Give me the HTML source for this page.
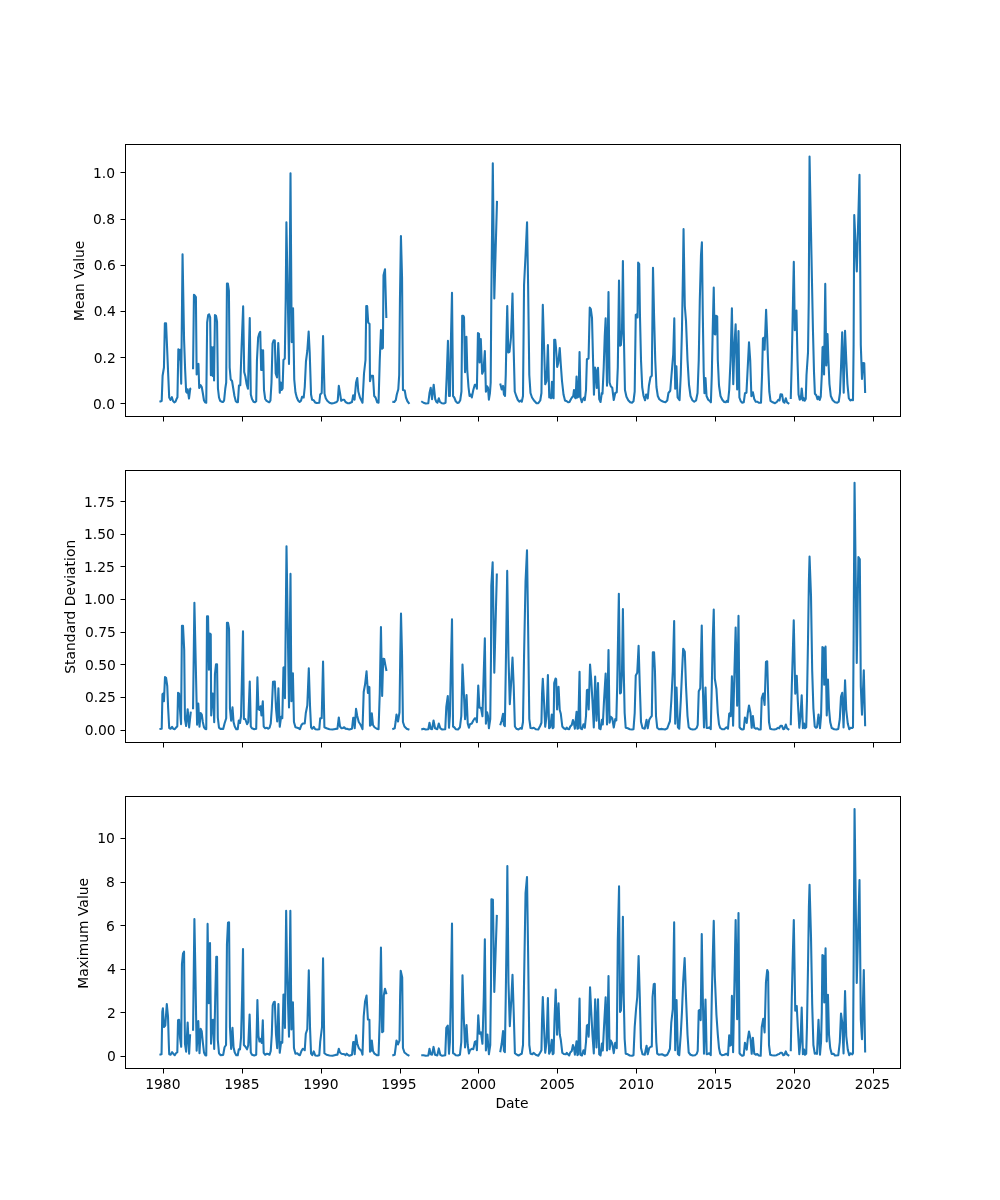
<!DOCTYPE html>
<html><head><meta charset="utf-8"><title>Statistics over time</title>
<style>
html,body{margin:0;padding:0;background:#fff;}
svg{display:block;}
text{font-family:"DejaVu Sans","Liberation Sans",sans-serif;font-size:13.889px;fill:#000;}
.fr{fill:none;stroke:#000;stroke-width:1;shape-rendering:crispEdges;}
.tk{stroke:#000;stroke-width:1;shape-rendering:crispEdges;}
.ln{fill:none;stroke:#1f77b4;stroke-width:2.08;stroke-linejoin:round;stroke-linecap:butt;}
</style></head>
<body>
<svg width="1000" height="1200" viewBox="0 0 1000 1200">
<rect x="0" y="0" width="1000" height="1200" fill="#ffffff"/>
<g id="ax1">
<clipPath id="c1"><rect x="125.5" y="144.5" width="775" height="272"/></clipPath>
<g clip-path="url(#c1)">
<path class="ln" d="M159.45 401.7 L161.7 400.95 L162.6 375.75 L163.95 367.5 L164.85 323.25 L166.05 323.25 L167.1 348 L168.15 373.5 L169.2 397.5 L170.55 399.9 L171.9 397.2 L172.95 400.8 L174.3 402.45 L175.5 401.7 L176.4 399.3 L177.45 397.2 L178.35 349.3 L179.25 359.5 L180.15 349.9 L181.2 383.8 L182.55 254.2 L184.05 339 L185.1 369 L186.15 391.8 L187.05 392.7 L187.65 389.2 L189 398.5 L190.2 388.8 L191.25 388.5"/>
<path class="ln" d="M193.05 369.3 L193.95 294.75 L195 295.8 L195.9 297 L196.65 374.5 L197.7 364.2 L198.45 363.9 L199.2 388 L200.55 385.2 L201.75 387 L202.8 393 L204 400.5 L205.2 402.3 L206.25 402.75 L207.15 322.5 L208.2 315 L209.1 314.25 L210.15 317.25 L210.9 375.25 L211.8 347.2 L212.7 376 L213.3 347.2 L214.05 380.5 L214.95 315 L216 315.75 L217.05 321.75 L217.95 388.5 L219 397.5 L220.2 400.8 L221.55 401.7 L222.9 402 L224.1 400.5 L225.3 388.5 L226.2 382.5 L226.95 283.5 L227.85 283.5 L228.9 291 L229.65 367.5 L230.7 379.5 L232.05 381 L233.25 388.5 L234.45 396 L235.8 401.25 L237 402.3 L237.9 402.3 L238.95 385.5 L240.3 385.2 L241.65 345 L243.15 306.4 L244.2 372 L245.4 376.5 L246.6 384 L247.95 388.75 L249.75 317.95 L250.8 394.5 L252 399 L253.5 401.7 L255 402.3 L256.2 401.25 L256.95 360 L258.15 337.5 L259.2 333.75 L260.25 331.8 L261.15 370 L261.9 350.2 L262.65 370 L263.1 350.2 L264 390 L265.2 399 L266.55 400.8 L268.05 401.7 L269.25 402.3 L270.45 400.5 L271.5 382.5 L272.55 343.5 L273.75 340.2 L274.8 340.5 L275.7 373.5 L277.05 377.5 L278.25 343 L279 360 L279.75 392.8 L280.8 382.45 L281.7 390 L282.6 388.5 L283.45 360 L284.8 358.5 L285.7 300 L286.4 222.2 L289 364 L290.5 173.35 L291.7 342.1 L293.05 308.2 L294.25 379.5 L295.45 392.25 L296.8 397.5 L298.15 400.5 L299.65 402 L301 400.8 L302.05 396.75 L303.7 397.5 L304.75 387 L305.95 361.5 L307.3 351 L308.65 331.45 L309.7 352.5 L311.05 394.5 L312.1 399.75 L313.6 400.2 L315.1 402.45 L316.75 403.05 L319.3 402.75 L320.2 394.5 L321.7 393 L323.05 335.95 L324.55 393.75 L325.75 398.25 L327.25 400.8 L329.5 402.75 L331.75 403.5 L334 402.9 L336.7 402 L337.75 400.5 L338.8 385.9 L340 393 L341.2 400.8 L342.7 399.75 L344.2 399.75 L345.55 402 L347.5 403.2 L349.3 403.2 L352 402 L353.2 395.2 L354.55 399.7 L356.05 382.5 L357.25 377.95 L358.3 391.5 L359.95 397.5 L362.5 402.7 L364 373.5 L365.5 360 L366.25 306 L367.15 306 L368.2 322.5 L369.55 324 L370 381.25 L371.2 375.75 L373 375.75 L374.2 396 L375.55 397.5 L377.2 402.3 L378.55 402.75 L379.75 360 L380.95 329.95 L382 348.75 L382.9 348 L383.5 275.25 L385 269.2 L386.35 318"/>
<path class="ln" d="M392.3 401.7 L394.25 402 L395.75 400.2 L396.8 394.5 L398.3 389.25 L399.2 375 L399.95 300 L400.93 236.05 L402.05 277.5 L402.95 390 L404.75 390.45 L405.95 397.5 L407.45 401.25 L409.4 403.8"/>
<path class="ln" d="M421.25 401.25 L423.5 402.75 L425.75 403.5 L428.3 403.2 L429.5 393 L430.7 387.7 L432.05 399.25 L433.7 384.7 L435.2 399 L436.25 401.7 L437.45 402.75 L438.8 398.2 L440 402 L441.8 403.2 L443.75 403.5 L445.55 402.75 L446.75 375 L447.95 340.9 L449 396 L449.9 396 L450.8 345 L452 292.9 L453.05 396 L454.25 397.5 L455.75 401.25 L457.25 402.9 L458.75 402.75 L460.25 400.2 L461.45 391.5 L462.2 315.75 L463.25 315.75 L464 317.25 L465.05 372.25 L466.4 336.7 L467.3 370.5 L468.5 387 L469.55 396 L470.75 394.5 L471.8 397.5 L473.3 390 L474.8 384.75 L476 384.75 L476.9 388.75 L477.95 333 L479 333.75 L479.6 362.5 L480.8 338.95 L482.15 373.75 L483.5 370.5 L484.85 350.95 L485.9 391.75 L487.1 386.25 L488 387.75 L488.9 399.7 L489.95 393 L490.7 382.5 L491.3 300 L492.8 163.2 L494.3 298.5 L497 200.85"/>
<path class="ln" d="M500.2 383.6 L501.7 389.5 L503.05 385.9 L503.95 394.5 L505 396 L505.75 375 L506.5 336 L507.25 305.95 L508.3 352.5 L509.5 351.75 L511 337.5 L512.5 293.5 L513.55 345 L514.75 391.5 L516.25 396 L517.75 399.75 L519.25 401.7 L520.75 400.5 L521.8 401.7 L523 396 L524.05 285 L525.55 255 L527.05 222.25 L528.1 285 L529.3 375 L530.5 393 L532 397.5 L534.25 400.8 L536.5 403.2 L538.3 403.2 L540.25 400.5 L541.45 393 L542.05 345 L542.8 304.9 L544 345 L545.2 384.25 L546.55 381 L547.9 344.95 L549.25 397.5 L550.3 396.75 L551.05 398.25 L551.95 381.7 L552.7 397.5 L553.6 398.25 L554.2 339.75 L555.25 339.75 L556 348 L557.2 367 L558.25 363 L559.75 347.95 L560.8 364.5 L562 381 L563.5 394.5 L565 400.5 L566.8 401.25 L568.3 402.3 L569.5 402 L571 399 L572.2 397.2 L573.25 396 L574 389.95 L574.9 397.5 L575.65 398.25 L576.55 376.45 L577.45 397.5 L578.5 396.75 L579.55 352 L580.45 397.5 L581.8 402.25 L583 399 L584.05 397.5 L584.8 400.2 L586 390 L586.9 359.25 L588.55 358.5 L589.75 307.5 L590.8 309 L592 318 L593.05 360 L593.95 394.75 L595 367.5 L595.9 370.5 L596.8 388 L598 367.9 L599.2 399 L600.55 402 L601.75 393 L602.5 393.75 L603.7 367.5 L604.75 336 L605.65 318.4 L607 385.75 L608.5 292 L609.55 382.5 L610.75 386.25 L612.25 387.75 L613.75 400 L615.25 393 L616.75 392.25 L617.8 367.5 L619 280.45 L620.05 345.75 L620.95 345 L622 330 L622.9 260.95 L623.75 330 L624.95 390 L626.45 396.75 L628.25 400.2 L630.2 402.3 L632 402.75 L633.5 401.25 L634.7 391.5 L635.75 315 L636.95 314.25 L637.55 317.5 L638.15 262.5 L639.2 264 L639.95 315 L641 360 L642.2 387 L643.55 396 L645.05 400.3 L646.1 394.5 L647 394.8 L647.75 398.5 L648.95 385.5 L650.45 377.25 L651.8 375.75 L653 267.7 L654.05 315 L655.25 360 L656.45 387 L657.8 396 L659.3 399.3 L661.25 400.8 L663.5 401.7 L665.45 402.3 L667.25 400.5 L668.45 393 L670.25 390.75 L671.75 372 L673.25 354 L674.3 318.4 L675.2 388.75 L676.4 366.4 L677.6 397.5 L678.65 399 L679.55 400.2 L680.75 375 L681.95 330 L683 270 L683.55 229.15 L684.8 306 L686 321 L687.5 360 L689 384.75 L690.5 396 L692.3 400.2 L694.25 401.7 L696.05 400.5 L697.55 393 L698.75 360 L699.8 300 L701 255 L701.9 242.2 L702.8 315 L703.7 372 L704.45 393.25 L705.5 377.95 L706.55 396 L708.2 399.75 L709.7 400.8 L710.9 402.3 L711.8 375 L712.7 330 L713.75 287.5 L714.5 333.75 L715.25 334.5 L715.7 315.75 L717.2 316.5 L717.8 360 L719 385.5 L720.5 396 L722.3 399.75 L724.25 402 L725.75 402.3 L726.8 400.8 L728 402 L729.2 390 L730.55 360 L731.9 308.2 L733.25 384.25 L734.45 345 L735.65 324.4 L737.15 389.5 L738.5 331.15 L739.4 397.5 L740.75 401.25 L742.25 402.75 L743.75 402.3 L744.95 393.3 L746.45 392.7 L747.5 372 L749 342.4 L750.2 360 L751.4 396.25 L752.9 392.2 L754.25 399 L755.75 401.7 L757.25 401.7 L758.75 402.75 L761 402.75 L762.05 375 L762.95 338.25 L764 337.5 L764.6 349.75 L766.1 309.7 L767.2 337.5 L768.25 367.5 L769.3 391.5 L770.5 400.8 L772.75 402.3 L775 403.2 L776.8 402 L778.3 399.75 L779.5 400.5 L780.55 394.2 L782.05 394.5 L783.25 401.7 L784.45 402.75 L785.8 398.2 L787 402.3 L789.25 403.8"/>
<path class="ln" d="M790.75 399 L791.8 360 L792.7 315 L793.8 261.9 L794.8 330.25 L796.45 310.45 L797.5 360 L798.55 394.5 L799.75 399.75 L800.8 399 L801.7 388.45 L802.9 400.3 L803.8 398.2 L804.55 400.8 L805.75 399 L806.5 375 L808 352.5 L808.75 300 L809.55 156.45 L811.75 270 L812.95 330 L814 372 L814.9 393.75 L816.25 395.25 L817.45 399.25 L818.5 396.7 L819.7 400 L820.75 396.75 L821.8 375 L822.55 347.25 L823.45 346.5 L824.05 374.5 L825.25 283.9 L826.3 365.5 L827.5 334 L828.4 360 L829.45 384 L830.8 396 L832.75 400.2 L835 402.3 L837.25 402.75 L838.75 401.7 L839.95 393 L841 367.5 L842.2 332.2 L843.7 392.8 L845.05 330.7 L846.25 360 L847.45 384 L848.8 398.25 L850.3 400.5 L851.8 399.75 L853 400.2 L853.6 345 L854.25 214.95 L856.8 271.5 L859.5 174.9 L860.8 345 L862 379 L863.05 363 L864.25 363.3 L865.15 393"/>
</g>
<rect x="163" y="417" width="1" height="4.5"/><rect x="242" y="417" width="1" height="4.5"/><rect x="321" y="417" width="1" height="4.5"/><rect x="400" y="417" width="1" height="4.5"/><rect x="478" y="417" width="1" height="4.5"/><rect x="557" y="417" width="1" height="4.5"/><rect x="636" y="417" width="1" height="4.5"/><rect x="715" y="417" width="1" height="4.5"/><rect x="794" y="417" width="1" height="4.5"/><rect x="873" y="417" width="1" height="4.5"/>
<rect x="120.5" y="403" width="4.5" height="1"/><rect x="120.5" y="357" width="4.5" height="1"/><rect x="120.5" y="311" width="4.5" height="1"/><rect x="120.5" y="265" width="4.5" height="1"/><rect x="120.5" y="219" width="4.5" height="1"/><rect x="120.5" y="172" width="4.5" height="1"/>
<rect class="fr" x="125.5" y="144.5" width="775" height="272"/>
</g>
<g id="ax2">
<clipPath id="c2"><rect x="125.5" y="470.5" width="775" height="272"/></clipPath>
<g clip-path="url(#c2)">
<path class="ln" d="M159.45 729.05 L161.7 728.75 L162.45 694.25 L163.2 693.5 L163.95 701.25 L165 677 L166.05 677.75 L167.25 686 L168.15 708.5 L169.2 728 L170.55 728.75 L172.05 726.8 L173.25 728.75 L174.75 729.2 L175.95 727.7 L177.3 726.2 L178.05 692.75 L179.1 693.5 L180 710 L181.05 724.2 L181.95 625.7 L183 625.7 L184.2 650 L184.95 719 L186.15 726 L187.65 709.2 L189.15 727.5 L190.8 711.55"/>
<path class="ln" d="M193.05 709.25 L194.4 602.7 L195.45 650 L196.5 698 L197.1 724.8 L198.3 703.5 L199.5 726.75 L200.7 713 L201.75 714.5 L202.8 722 L204 727.25 L205.2 728.75 L206.25 729.2 L207 616.4 L208.05 616.4 L208.95 669.75 L209.85 633.5 L210.75 634.25 L211.2 715.5 L212.4 693.5 L213.3 693.8 L214.2 722.25 L214.95 674 L216 664.25 L217.05 664.25 L217.8 717.5 L219 727.7 L220.5 728.9 L223.2 728.9 L224.55 723.5 L226.2 718.25 L226.95 622.7 L228 622.7 L229.05 629 L229.95 708.5 L231.15 720.75 L232.5 707.4 L233.55 722 L234.75 726.5 L236.25 729.2 L237.75 729.2 L238.8 720.45 L240 723 L241.05 716 L242.1 671 L243 631.2 L243.9 719 L245.25 719 L247.05 724.25 L248.25 722 L249.75 681.45 L250.8 726.5 L252 728.3 L254.25 729.2 L256.2 728.75 L257.4 677.4 L258.45 709.25 L259.5 710 L260.55 706.2 L261.45 715.5 L262.8 701.25 L263.7 726.5 L265.2 728.3 L267 727.7 L268.2 728.75 L269.55 727.7 L270.75 723.5 L271.8 708.5 L273 681.8 L274.8 681.5 L276 708.5 L277.2 721.5 L278.4 688.2 L279.75 726.75 L281.1 716.75 L282.3 718.25 L283.45 667.7 L284.2 667.25 L284.95 698.25 L285.7 626 L286.5 546.2 L289 707.5 L290.5 573.9 L291.4 701.25 L292.9 673.2 L293.95 722 L295.45 727.25 L297.25 727.7 L298.75 728.3 L299.95 729.2 L301.45 725 L302.8 723.5 L304.75 723.5 L305.8 713 L307.3 705.5 L308.8 668.4 L310 705.5 L311.05 727.25 L312.25 728.75 L313.75 726.8 L315.25 729.2 L317.5 729.5 L319.3 729.2 L320.2 718.25 L321.7 718.25 L323.05 661.5 L324.4 727.25 L326.5 728.3 L329.5 729.2 L332.5 729.5 L335.5 728.9 L337.45 728.75 L338.8 717.45 L340 726.5 L341.5 728.3 L343 728 L344.2 727.25 L345.55 728.75 L347.5 728.9 L349.3 729.5 L352 728.75 L353.2 717.8 L353.95 717.8 L354.7 728.25 L356.05 708.9 L357.25 716 L358.75 722 L360.25 724.25 L361.45 726.5 L362.5 729.2 L363.7 692 L365.05 684.5 L366.55 671.4 L367.9 693 L368.5 686.75 L369.4 687.2 L370 725.75 L370.9 725 L371.8 713.4 L373 725 L374.5 727.25 L376.75 728.75 L378.55 729.2 L379.75 693.5 L380.95 627 L382.15 696 L383.2 658.7 L384.25 659 L385.45 665.75 L386.5 671"/>
<path class="ln" d="M392.3 729.2 L394.7 728.3 L395.6 722 L396.5 714.45 L398 721.5 L399.5 712.25 L400.25 656 L401 613.5 L402.05 656 L402.95 722 L404.45 726.5 L406.7 728.75 L409.4 729.8"/>
<path class="ln" d="M421.25 729.5 L423.5 728.75 L425.75 729.5 L428.3 729.2 L429.5 722.7 L430.7 728.75 L432.05 729.2 L433.55 720.45 L435.05 728.3 L437.3 729.2 L438.8 723.45 L440.3 728.3 L442.25 729.5 L445.25 729.2 L446.3 707 L447.8 696 L449 727.8 L449.9 716 L450.8 671 L452 619.2 L453.05 726.5 L454.25 727.25 L455.75 729.2 L458 729.5 L459.95 727.25 L461.3 716 L462.5 664.5 L463.55 686 L465.05 719.25 L466.55 694.95 L467.75 723.5 L468.95 727.8 L470 724.25 L471.8 723.5 L473.3 720.5 L474.8 718.25 L476 719 L476.9 722.25 L478.25 685.5 L479.45 707.75 L480.95 707.75 L482.45 716.25 L483.8 671 L484.85 638.4 L485.9 723.75 L487.1 712.2 L488 716 L488.9 728.25 L490.25 719 L491 656 L491.3 586 L492.65 562.2 L494.3 672.8 L496.85 573.55"/>
<path class="ln" d="M500.2 725.3 L501.7 720.5 L503.05 713.7 L503.95 725 L504.85 726.2 L505.75 671 L507.2 570.9 L508.45 656 L509.8 704.25 L511.3 680 L512.5 657.45 L513.7 686 L514.9 726.5 L516.4 728.75 L518.5 729.5 L520.45 728 L521.8 728.75 L523 722 L524.05 656 L525.55 581 L527 550.2 L528.1 626 L529.3 719 L530.5 728 L532.3 728.3 L533.8 727.7 L535.75 729.2 L538.3 729.5 L540.25 725.75 L541.45 722.75 L542.05 693.5 L542.8 678.9 L544 701 L545.2 726.75 L546.55 716 L547.9 675 L549.1 728.3 L550.3 727.25 L551.8 714.45 L552.7 728.3 L553.6 727.25 L554.2 683 L555.55 678.5 L556.15 679.25 L557.05 709.5 L558.55 686.7 L559.75 710 L560.8 713.75 L562.3 726.5 L563.8 728.3 L565.75 729.2 L566.8 727.7 L568 728.9 L569.2 729.2 L570.25 726.5 L571.75 725 L572.95 720 L574 723.5 L574.9 728.7 L576.55 711.9 L577.45 728.75 L578.2 728.3 L579.55 671.7 L580.45 728.3 L581.95 729.2 L583.45 724.2 L584.8 727.8 L586 716 L586.9 690.2 L587.8 689.75 L588.7 709.5 L590.05 664.5 L591.25 680 L592.45 701 L593.8 727.5 L595.15 676.5 L596.5 720.75 L598 682.95 L599.2 728.3 L600.55 729.2 L601.9 719.7 L602.8 724.5 L604 701 L605.65 673.5 L607 724.5 L608.5 649.95 L609.55 722.7 L610.75 716.75 L612.25 718.25 L613.75 727.5 L615.25 719 L616.3 720.5 L617.2 686 L618.85 593.7 L620.05 693.5 L620.95 692.75 L622 671 L622.9 609 L623.75 671 L624.65 713 L625.7 727.7 L627.8 728.3 L629.75 729.2 L632 729.5 L633.5 729.2 L634.7 713 L635.75 675.5 L637.25 672.8 L638.6 645.9 L639.8 686 L641 722 L642.5 728 L644.75 728.75 L646.55 719.7 L647.75 728.25 L649.25 719.75 L650.75 717.2 L651.8 716 L652.85 652.25 L654.05 652.25 L654.95 671 L656 716 L657.2 727.7 L659 729.2 L662 728.9 L665 729.5 L667.25 728.3 L668.75 724.25 L669.95 721.25 L671.3 701 L672.8 671 L674.15 621 L675.2 723.75 L676.55 687.45 L677.9 727.25 L679.25 728.75 L680.75 701 L681.95 674 L683.15 648.8 L684.8 651.8 L686 686 L687.5 716 L688.7 727.25 L690.5 728.9 L692.75 729.5 L695 729.2 L696.8 727.7 L697.7 725 L698.75 691.25 L700.25 688.25 L701.75 625.5 L702.8 686 L704 727.5 L705.5 687.45 L706.7 728 L708.2 728 L709.25 727.25 L710.75 729.2 L711.8 686 L712.7 641 L713.75 609.45 L714.8 678.5 L716.45 689 L717.8 713 L719 724.25 L720.2 728 L722 729.2 L724.25 729.2 L726.5 727.25 L728 728.75 L729.2 713.75 L729.95 713 L730.7 716.25 L731.9 676.2 L733.1 725.7 L734.45 671 L735.65 627.45 L737.15 705.75 L738.5 615.9 L739.55 727.25 L740.75 728.75 L742.25 729.5 L743.75 729.2 L744.95 717.45 L746.75 723 L747.8 713 L749 705.45 L750.5 713 L751.7 727.8 L752.9 715.95 L754.25 727.7 L755.75 728.75 L757.25 728.3 L758.75 729.5 L760.7 729.5 L761.75 698 L763.25 693.45 L764.6 705 L765.95 662 L767.2 661.25 L768.1 693.5 L769 722 L770.2 728.75 L772 729.2 L774.25 729.5 L776.5 728.9 L778 727.7 L779.2 728.3 L780.55 725.75 L781.9 725.75 L783.25 729.2 L784.45 728.75 L785.8 724.5 L787 728.3 L789.25 729.8"/>
<path class="ln" d="M790.75 725.3 L791.8 686 L792.7 656 L793.75 620.4 L795.25 693.75 L796.75 675.9 L797.8 701 L799.3 727.8 L800.5 716 L801.7 695.4 L802.9 728.25 L804.1 723.45 L805 728.3 L806.2 727.25 L806.95 701 L808 641 L808.9 581 L809.55 556.5 L811 596 L812.2 671 L813.4 708.5 L814.75 726.5 L815.95 727.7 L817 727.25 L818.5 714.45 L820 728.25 L821.05 716 L821.8 686 L822.4 647 L823.45 647.75 L824.2 684.75 L825.55 646.65 L826.75 715.5 L827.95 679.5 L829 708.5 L830.2 722 L831.7 728 L834.25 729.2 L836.5 729.5 L838.3 728.9 L839.8 719 L841 696.5 L842.2 692.7 L843.55 727.5 L845.05 680.4 L846.25 710 L847.75 723.5 L849.25 729.2 L850.75 727.7 L852.25 728 L853 727.25 L853.6 641 L854.55 482.7 L856.75 663 L858.4 557 L859.8 559.3 L860.8 686 L862 714.75 L863.8 670.2 L865.15 726.2"/>
</g>
<rect x="163" y="743" width="1" height="4.5"/><rect x="242" y="743" width="1" height="4.5"/><rect x="321" y="743" width="1" height="4.5"/><rect x="400" y="743" width="1" height="4.5"/><rect x="478" y="743" width="1" height="4.5"/><rect x="557" y="743" width="1" height="4.5"/><rect x="636" y="743" width="1" height="4.5"/><rect x="715" y="743" width="1" height="4.5"/><rect x="794" y="743" width="1" height="4.5"/><rect x="873" y="743" width="1" height="4.5"/>
<rect x="120.5" y="730" width="4.5" height="1"/><rect x="120.5" y="697" width="4.5" height="1"/><rect x="120.5" y="664" width="4.5" height="1"/><rect x="120.5" y="632" width="4.5" height="1"/><rect x="120.5" y="599" width="4.5" height="1"/><rect x="120.5" y="566" width="4.5" height="1"/><rect x="120.5" y="534" width="4.5" height="1"/><rect x="120.5" y="501" width="4.5" height="1"/>
<rect class="fr" x="125.5" y="470.5" width="775" height="272"/>
</g>
<g id="ax3">
<clipPath id="c3"><rect x="125.5" y="796.5" width="775" height="272"/></clipPath>
<g clip-path="url(#c3)">
<path class="ln" d="M159.45 1054.75 L161.55 1054.3 L162.3 1012 L162.9 1008.2 L163.95 1027 L165.3 1025.5 L166.8 1004 L168 1016.5 L168.75 1042 L169.2 1054.3 L170.55 1054.75 L172.05 1052.2 L173.25 1053.7 L174.75 1055.2 L175.95 1053.25 L177.3 1052.2 L178.05 1020.25 L179.1 1019.8 L180 1037.5 L181.2 1046.75 L181.95 964 L183 953.5 L184.05 951.7 L184.95 1043.5 L186.15 1051.7 L187.65 1022.45 L189.15 1053.8 L190.05 1035.25 L191.1 1035.25"/>
<path class="ln" d="M193.05 1030.75 L194.4 918.95 L195.45 976 L196.65 1050.8 L198.3 1020.95 L199.5 1053.2 L200.7 1028.9 L201.75 1031.5 L202.8 1042 L204 1052.5 L205.2 1055.2 L206.25 1055.5 L206.85 997 L207.6 923.9 L208.8 1003.25 L210 942.95 L211.05 1043.75 L212.4 1020.25 L213.3 1019.8 L214.2 1049 L215.25 997 L216.3 956.8 L217.05 956.8 L217.8 1039.75 L219 1053.25 L220.5 1055.2 L223.2 1054.9 L224.55 1047.25 L226.05 1045 L226.95 944.5 L228 922.75 L229.05 922.3 L229.95 1027 L231.15 1049 L232.5 1027.7 L233.55 1047.25 L234.75 1052.5 L236.25 1055.2 L237.75 1055.2 L238.8 1049.2 L240 1049.5 L241.05 1037.5 L242.1 997 L243 948.95 L243.9 1045 L245.25 1046.5 L247.05 1049.3 L248.25 1045.3 L249.6 1014.5 L250.8 1052.5 L252 1054.75 L254.25 1055.5 L256.2 1054.75 L257.4 1000.1 L258.45 1036 L259.5 1041.5 L260.55 1038.95 L261.75 1043 L262.8 1020.2 L263.7 1052.8 L265.2 1054.75 L267 1053.7 L268.2 1054 L269.55 1054.75 L270.75 1051 L271.8 1034.5 L272.7 1005.25 L273.75 1002.25 L274.8 1001.8 L276 1034.5 L277.2 1048.25 L278.4 1004 L279.75 1052.75 L281.1 1042 L282.3 1042.75 L283.45 994.75 L284.2 994.3 L284.95 1028 L286.15 910.7 L287.05 967 L289 1036.7 L290.35 910.7 L291.4 1029.5 L292.9 1002.2 L293.95 1048 L295.45 1053.7 L297.25 1053.25 L298.75 1054.75 L299.95 1055.2 L301.45 1051 L302.8 1048.75 L304.75 1050.25 L305.8 1033.75 L307.3 1029.25 L308.8 970.4 L310 1027 L311.05 1053.7 L312.25 1055.2 L313.75 1051.4 L315.25 1055.5 L317.5 1055.8 L319.3 1055.2 L320.2 1042 L322 1027 L323.05 958.4 L324.4 1053.25 L326.5 1054.75 L329.5 1055.5 L332.5 1055.8 L335.5 1054.9 L337.45 1054.75 L338.8 1048.7 L340 1052.5 L341.5 1053.7 L343 1054 L344.5 1054.3 L345.55 1055.2 L346.75 1053.7 L348.25 1055.2 L349.3 1055.8 L352 1054.75 L353.2 1042 L353.95 1042 L354.7 1054.25 L356.05 1035.2 L357.25 1043.5 L358.75 1048 L360.25 1049.8 L361.45 1051 L362.5 1054.7 L363.7 1016.5 L365.05 1001.5 L366.55 995.45 L367.9 1019.5 L369.4 1019.8 L370 1051.75 L370.9 1051 L371.8 1040.45 L373 1051 L374.5 1053.7 L376.75 1055.2 L378.55 1055.2 L379.75 1019.5 L380.95 947.45 L382.15 1032.25 L383.2 1031.5 L383.8 995.5 L385 988.7 L386.5 994.3"/>
<path class="ln" d="M392.3 1055.5 L394.7 1054.75 L395.6 1048 L396.5 1040.45 L398 1044.5 L399.5 1040.5 L400.1 997 L400.7 970.7 L402.2 977.5 L402.95 1048 L404.45 1052.5 L406.7 1054.3 L409.4 1055.95"/>
<path class="ln" d="M421.25 1055.2 L423.5 1055.2 L425.75 1055.8 L428.3 1055.5 L429.5 1048.7 L430.7 1054.3 L432.05 1054.75 L433.55 1046.9 L435.05 1054.75 L437.3 1055.5 L438.8 1048.4 L440.3 1054.75 L442.25 1055.8 L445.25 1055.2 L446.3 1027.75 L447.8 1025.5 L449 1053.8 L449.9 1042 L450.8 997 L452 923.45 L453.05 1053.25 L454.25 1053.7 L455.75 1055.2 L458 1055.5 L459.95 1054.75 L461.3 1042 L462.5 975.2 L463.55 1012 L465.05 1047.5 L466.55 1025 L467.75 1045 L468.95 1053.5 L470 1050.25 L471.8 1048.75 L473.3 1049.2 L474.8 1042 L476 1041.25 L476.9 1050.2 L478.25 1015.4 L479.45 1033.75 L480.95 1032.25 L482.45 1043.75 L483.8 997 L484.85 939.2 L485.9 1050.5 L487.4 1034.45 L488.9 1054.25 L490.25 1045 L491 982 L491.4 899.2 L492.9 899.8 L494.3 992 L496.85 914.85"/>
<path class="ln" d="M500.2 1052.2 L501.7 1043.5 L503.05 1031 L503.95 1051 L504.85 1052.2 L505.75 997 L506.8 922 L507.35 866 L508.45 982 L509.8 1026.2 L511.3 1000 L512.5 974.9 L513.7 1012 L514.9 1053.25 L516.4 1054.3 L518.5 1055.5 L520.45 1054.3 L521.8 1053.7 L523 1045 L524.05 982 L525.55 893 L527 877 L528.1 952 L529.3 1045 L530.5 1053.7 L532.3 1054.3 L533.5 1052.8 L535.75 1054.75 L538.3 1055.8 L540.25 1052.5 L541.45 1050.25 L542.05 1019.5 L542.8 996.95 L544 1027 L545.2 1052.75 L546.55 1042 L547.9 998.15 L549.1 1053.8 L550.3 1051 L551.8 1039.7 L552.7 1054.3 L553.6 1053.25 L554.5 1019.5 L555.7 989.45 L557.05 1034.75 L558.55 1003.4 L559.75 1034.5 L560.8 1039.75 L562.3 1052.8 L563.8 1054 L565.75 1054.3 L566.8 1052.8 L568 1054.3 L569.2 1055.5 L570.25 1052.5 L571.75 1051 L572.95 1045 L574 1048 L574.9 1054.7 L576.55 1041.2 L577.45 1055.2 L578.2 1054.3 L579.55 998.45 L580.45 1054.75 L581.95 1055.5 L583.45 1050.2 L584.8 1054.25 L586 1042 L586.9 1025.5 L587.8 1024.75 L588.7 1036.7 L590.05 987.2 L591.25 1012 L592.45 1034.5 L593.8 1053.5 L595.15 999.2 L596.5 1047.5 L598 999.2 L599.2 1054.3 L600.55 1055.5 L601.9 1043.45 L602.8 1050.5 L604 1027 L605.65 997.25 L607 1050.5 L608.5 975.95 L609.55 1049.3 L610.75 1040.5 L612.25 1043.5 L613.75 1053.2 L615.25 1042.7 L616.75 1048.25 L617.8 940 L619.05 886.4 L620.05 1012 L620.95 1010.5 L622 982 L622.9 916.7 L623.75 997 L624.65 1039 L625.7 1053.7 L627.8 1054.3 L629.75 1055.5 L632 1055.8 L633.5 1055.2 L634.7 1027 L636.05 1009 L637.25 997 L638.6 956 L639.8 997 L641 1048 L642.5 1054.3 L644.75 1054.75 L646.55 1045.7 L647.75 1054.25 L649.25 1048 L650.75 1046.8 L651.8 1046.5 L652.55 997 L653.75 984.25 L654.8 983.8 L655.55 1019.5 L656.3 1042 L657.2 1053.7 L659 1054.75 L662 1054.3 L665 1055.8 L667.25 1054.75 L668.75 1051.75 L669.95 1048.75 L671.3 1022.5 L672.8 1009 L674.15 922.4 L675.2 1050.2 L676.55 999.95 L677.9 1054 L679.25 1055.2 L680.75 1034.5 L681.95 1012 L683.15 982 L684.65 957.95 L686 997 L687.5 1034.5 L688.7 1052.5 L690.5 1054.75 L692.75 1055.5 L695 1055.2 L696.8 1053.7 L697.7 1051 L698.75 1010.5 L699.8 1009.75 L700.7 1020.2 L701.75 933.95 L702.8 997 L704 1053.8 L705.5 999.5 L706.7 1054.3 L708.2 1053.7 L709.25 1053.25 L710.75 1055.2 L711.8 997 L712.7 959.5 L713.75 920.9 L714.8 976 L716.45 1015 L717.8 1034.5 L719 1048 L720.2 1053.7 L722 1055.2 L724.25 1054.75 L726.5 1053.7 L728 1055.2 L729.2 1035.2 L729.95 1045.75 L731 1045 L731.9 995.9 L733.1 1052.3 L734.45 982 L735.65 920 L737.15 1019.3 L738.5 912.95 L739.55 1053.25 L740.75 1054.75 L742.25 1055.8 L743.75 1055.2 L744.95 1042.7 L746.75 1049.75 L747.8 1039 L749 1031.45 L750.5 1039 L751.7 1053.8 L752.9 1037.9 L754.25 1053.7 L755.75 1054.75 L757.25 1054 L758.75 1055.5 L760.7 1055.8 L761.75 1027 L763.25 1018.7 L764.6 1032.5 L765.95 982 L767.2 970 L768.1 972.25 L769 1045 L770.2 1054.75 L772 1055.2 L774.25 1055.5 L776.5 1055.2 L778 1054.3 L779.2 1054 L780.55 1052.8 L781.9 1052.8 L783.25 1055.2 L784.45 1054.75 L785.8 1051.4 L787 1054.3 L789.25 1055.8"/>
<path class="ln" d="M790.75 1051.3 L791.8 997 L792.7 959.5 L793.8 920 L795.25 1010.75 L796.75 1005.95 L797.8 1027 L799.3 1054.25 L800.5 1042 L801.7 1007.45 L802.9 1054.25 L804.1 1049.45 L805 1054.75 L806.2 1053.7 L806.95 1027 L808 967 L808.9 907 L809.55 884.9 L811 937 L812.2 1004.5 L813.4 1045 L814.75 1053.7 L815.95 1053.25 L817 1054 L818.5 1019.9 L820 1054.7 L821.05 1042 L821.8 1012 L822.4 955 L823.45 955.75 L824.2 1002.5 L825.55 948.2 L826.75 1041.5 L827.95 994.7 L829 1034.5 L830.2 1048 L831.7 1054 L833.5 1053.7 L835 1055.5 L838.3 1055.2 L839.8 1042 L841 1013.45 L842.2 1022.5 L843.55 1053.5 L845.05 990.95 L846.25 1036 L847.75 1049.5 L849.25 1055.2 L850.75 1053.25 L852.25 1054.3 L853 1053.25 L853.6 967 L854.55 809 L856.75 983 L859.5 880 L860.8 1019.5 L862 1039.25 L863.8 969.95 L865.15 1052.5"/>
</g>
<rect x="163" y="1069" width="1" height="4.5"/><rect x="242" y="1069" width="1" height="4.5"/><rect x="321" y="1069" width="1" height="4.5"/><rect x="400" y="1069" width="1" height="4.5"/><rect x="478" y="1069" width="1" height="4.5"/><rect x="557" y="1069" width="1" height="4.5"/><rect x="636" y="1069" width="1" height="4.5"/><rect x="715" y="1069" width="1" height="4.5"/><rect x="794" y="1069" width="1" height="4.5"/><rect x="873" y="1069" width="1" height="4.5"/>
<rect x="120.5" y="1056" width="4.5" height="1"/><rect x="120.5" y="1012" width="4.5" height="1"/><rect x="120.5" y="969" width="4.5" height="1"/><rect x="120.5" y="925" width="4.5" height="1"/><rect x="120.5" y="882" width="4.5" height="1"/><rect x="120.5" y="838" width="4.5" height="1"/>
<rect class="fr" x="125.5" y="796.5" width="775" height="272"/>
</g>
<g id="labels">
<text x="115.00" y="408.55" text-anchor="end">0.0</text>
<text x="115.75" y="362.55" text-anchor="end">0.2</text>
<text x="115.75" y="315.55" text-anchor="end">0.4</text>
<text x="115.75" y="269.55" text-anchor="end">0.6</text>
<text x="115.00" y="223.55" text-anchor="end">0.8</text>
<text x="115.00" y="177.55" text-anchor="end">1.0</text>
<text x="115.62" y="734.55" text-anchor="end">0.00</text>
<text x="115.88" y="701.55" text-anchor="end">0.25</text>
<text x="115.88" y="669.55" text-anchor="end">0.50</text>
<text x="115.88" y="636.55" text-anchor="end">0.75</text>
<text x="114.88" y="603.55" text-anchor="end">1.00</text>
<text x="114.88" y="571.55" text-anchor="end">1.25</text>
<text x="114.88" y="538.55" text-anchor="end">1.50</text>
<text x="114.88" y="506.55" text-anchor="end">1.75</text>
<text x="115.75" y="1060.55" text-anchor="end">0</text>
<text x="115.75" y="1017.55" text-anchor="end">2</text>
<text x="115.75" y="973.55" text-anchor="end">4</text>
<text x="114.75" y="930.55" text-anchor="end">6</text>
<text x="114.75" y="886.55" text-anchor="end">8</text>
<text x="114.88" y="842.55" text-anchor="end">10</text>
<text x="162.88" y="1088.58" text-anchor="middle">1980</text>
<text x="241.88" y="1088.58" text-anchor="middle">1985</text>
<text x="320.88" y="1088.58" text-anchor="middle">1990</text>
<text x="398.88" y="1088.58" text-anchor="middle">1995</text>
<text x="478.50" y="1088.58" text-anchor="middle">2000</text>
<text x="557.50" y="1088.58" text-anchor="middle">2005</text>
<text x="636.50" y="1088.58" text-anchor="middle">2010</text>
<text x="714.62" y="1088.58" text-anchor="middle">2015</text>
<text x="793.50" y="1088.58" text-anchor="middle">2020</text>
<text x="872.50" y="1088.58" text-anchor="middle">2025</text>
<text x="512.00" y="1107.50" text-anchor="middle">Date</text>
<text transform="translate(83.55 280.75) rotate(-90)" text-anchor="middle">Mean Value</text>
<text transform="translate(74.55 606.75) rotate(-90)" text-anchor="middle">Standard Deviation</text>
<text transform="translate(87.55 933.38) rotate(-90)" text-anchor="middle">Maximum Value</text>
</g>
</svg>
</body></html>
